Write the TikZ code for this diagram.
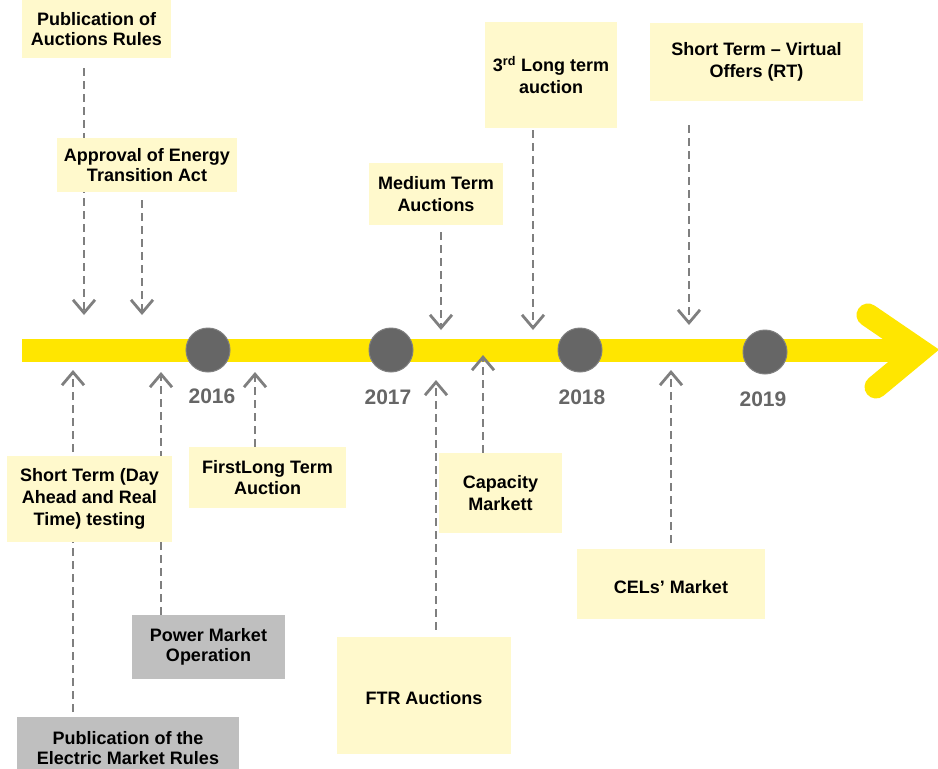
\documentclass[tikz,border=0pt]{standalone}
\usepackage{fontspec}
\setmainfont{Liberation Sans}
\usetikzlibrary{arrows.meta,calc,backgrounds}
\definecolor{baryel}{HTML}{FFE600}
\definecolor{boxyel}{HTML}{FFF9CC}
\definecolor{boxgray}{HTML}{BFBFBF}
\definecolor{arrgray}{HTML}{7F7F7F}
\definecolor{dotgray}{HTML}{666666}

\begin{document}
\begin{tikzpicture}[x=1pt, y=-1pt,
    evbox/.style={rectangle, fill=boxyel, inner sep=0pt, align=center,
        font=\fontsize{18}{20.5}\selectfont\bfseries,
        execute at begin node={\rule{0pt}{19pt}}},
    widebox/.style={evbox, font=\fontsize{18}{22.5}\selectfont\bfseries},
    graybox/.style={evbox, fill=boxgray},
    yeardot/.style={circle, fill=dotgray, draw=gray, line width=1pt,
        minimum size=44pt, inner sep=0pt},
    yearlbl/.style={text=dotgray, font=\fontsize{21}{24}\selectfont\bfseries},
    dasharr/.style={draw=arrgray, line width=2.8pt, dash pattern=on 8pt off 5pt,
        -{Straight Barb[length=13pt,width=22pt]}}]
    \useasboundingbox (0,0) rectangle (938,769);

    % events above the line
    \node[evbox, minimum width=149pt, minimum height=58pt] (pub) at (96.5,29) {Publication of\\Auctions Rules};
    \node[evbox, minimum width=180pt, minimum height=54pt] (appr) at (147,165) {Approval of Energy\\Transition Act};
    \node[widebox, minimum width=134pt, minimum height=62pt] (med) at (436,194) {Medium Term\\Auctions};
    \node[widebox, minimum width=132pt, minimum height=106pt] (lt3) at (551,75) {3\textsuperscript{rd} Long term\\auction};
    \node[widebox, minimum width=213pt, minimum height=78pt] (vo) at (756.5,62) {Short Term -- Virtual\\Offers (RT)};

    % events below the line
    \node[widebox, minimum width=165pt, minimum height=86pt, font=\fontsize{18}{22}\selectfont\bfseries] (st) at (89.5,499) {Short Term (Day\\Ahead and Real\\Time) testing};
    \node[evbox, minimum width=157pt, minimum height=61pt] (flt) at (267.5,477.5) {FirstLong Term\\Auction};
    \node[graybox, minimum width=153pt, minimum height=64pt] (pmo) at (208.5,647) {Power Market\\Operation};
    \node[graybox, minimum width=222pt, minimum height=62pt, anchor=north] (emr) at (128,717) {Publication of the\\Electric Market Rules};
    \node[evbox, minimum width=174pt, minimum height=117pt] (ftr) at (424,695.5) {FTR Auctions};
    \node[widebox, minimum width=123pt, minimum height=80pt] (cap) at (500.5,493) {Capacity\\Markett};
    \node[evbox, minimum width=188pt, minimum height=70pt] (cel) at (671,584) {CELs’ Market};

    % years
    \node[yeardot] (d16) at (208,350) {};
    \node[yeardot] (d17) at (391,350) {};
    \node[yeardot] (d18) at (580,350) {};
    \node[yeardot] (d19) at (765,352) {};
    \node[yearlbl] (y16) at (212,396) {2016};
    \node[yearlbl] (y17) at (388,397) {2017};
    \node[yearlbl] (y18) at (582,397) {2018};
    \node[yearlbl] (y19) at (763,399) {2019};

    % tips on the line
    \coordinate (ta) at (84,315);
    \coordinate (tb) at (142,315);
    \coordinate (tc) at (441,330);
    \coordinate (td) at (533,330);
    \coordinate (te) at (689,325);
    \coordinate (tf) at (73,370);
    \coordinate (tg) at (161,372);
    \coordinate (th) at (255,372);
    \coordinate (ti) at (436,380);
    \coordinate (tj) at (483,355);
    \coordinate (tk) at (671,370);

    \begin{scope}[on background layer]
        \draw[baryel, line width=23pt] (22,350.5) -- (918,350.5);
        \draw[baryel, line width=23pt, line cap=round, miter limit=4] (868,315) -- (920,350.5) -- (876,387);
        \draw[dasharr] ($(pub.south -| ta)+(0,10)$) -- (ta);
        \draw[dasharr] ($(appr.south -| tb)+(0,8)$) -- (tb);
        \draw[dasharr] ($(med.south -| tc)+(0,7)$) -- (tc);
        \draw[dasharr] ($(lt3.south -| td)+(0,2)$) -- (td);
        \draw[dasharr] ($(vo.south -| te)+(0,24)$) -- (te);
        \draw[dasharr] ($(emr.north -| tf)+(0,-5)$) -- (tf);
        \draw[dasharr] (pmo.north -| tg) -- (tg);
        \draw[dasharr] (flt.north -| th) -- (th);
        \draw[dasharr] ($(ftr.north -| ti)+(0,-7)$) -- (ti);
        \draw[dasharr] (cap.north -| tj) -- (tj);
        \draw[dasharr] ($(cel.north -| tk)+(0,-6)$) -- (tk);
    \end{scope}
\end{tikzpicture}
\end{document}
